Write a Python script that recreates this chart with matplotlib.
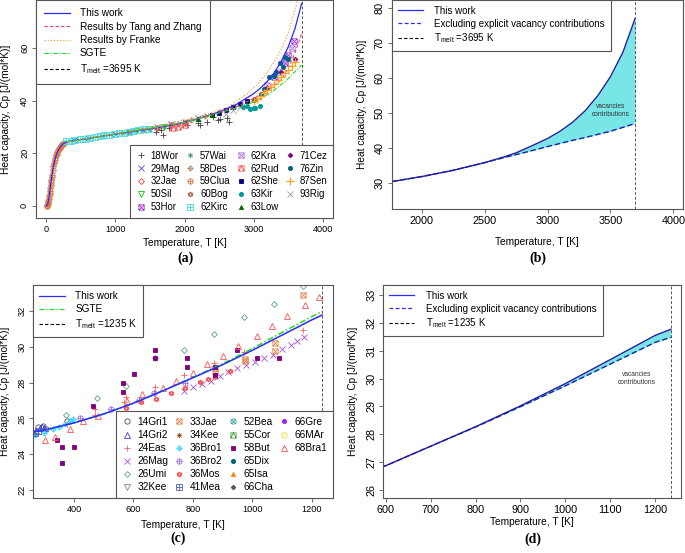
import numpy as np
import matplotlib
matplotlib.use('Agg')
import matplotlib.pyplot as plt
from matplotlib.path import Path
from matplotlib.lines import Line2D

plt.rcParams['font.family'] = ['Liberation Sans', 'DejaVu Sans']
plt.rcParams['mathtext.default'] = 'regular'
plt.rcParams['axes.linewidth'] = 0.8
plt.rcParams['axes.edgecolor'] = '#555555'

# ---------------- (a) tungsten: model curves ----------------
T_work_a = [0, 20, 40, 60, 80, 100, 130, 160, 200, 250, 300, 400, 500, 600, 700, 800, 900, 1000,
            1250, 1500, 1750, 2000, 2250, 2500, 2650, 2750, 2850, 3000, 3100, 3200, 3300, 3400,
            3500, 3600, 3695]
cp_work_a = [0, 0.7, 3.7, 7.9, 11.8, 15.0, 18.4, 20.5, 22.4, 23.8, 24.4, 24.9, 25.25, 25.6, 26.05,
             26.5, 26.9, 27.3, 28.3, 29.3, 30.4, 31.8, 33.6, 35.8, 37.4, 38.6, 40.2, 42.7, 44.8,
             47.4, 50.7, 55.0, 60.4, 67.5, 77.0]
T_tang = [300, 600, 1000, 1500, 2000, 2250, 2500, 2750, 3000, 3200, 3400, 3500, 3600, 3695]
cp_tang = [24.4, 25.6, 27.3, 29.3, 31.8, 33.5, 35.5, 37.8, 40.8, 44.0, 48.0, 52.3, 58.3, 65.5]
T_franke = [300, 600, 1000, 1500, 2000, 2250, 2500, 2650, 2900, 3050, 3200, 3300, 3400, 3500, 3625, 3680]
cp_franke = [24.4, 25.7, 27.5, 29.8, 32.6, 34.2, 36.2, 37.9, 42.5, 46.0, 51.0, 54.8, 59.5, 65.5, 77.0, 82.0]
T_sgte_a = [300, 1000, 2000, 2500, 2750, 3000, 3250, 3480, 3695]
cp_sgte_a = [24.4, 27.3, 31.8, 35.3, 37.3, 39.5, 43.0, 47.9, 53.6]
Tmelt_W = 3695

# ---------------- (a) experimental data ----------------
wor18_T = [1590, 1660, 1690, 1780, 2030, 2200, 2220, 2320, 2410, 2490, 2510, 2610, 2650]
wor18_cp = [28.2, 28.9, 27.0, 29.5, 30.8, 31.4, 30.8, 32.0, 33.9, 32.7, 33.0, 33.3, 32.0]
mag29_T = [400, 600, 800, 1000, 1200, 1400, 1600, 1800, 2000, 2200]
mag29_cp = [25.0, 25.7, 26.6, 27.4, 28.2, 29.0, 29.9, 31.0, 32.0, 33.3]
jae32_T = [1200, 1400, 1600, 1800, 2000]
jae32_cp = [28.2, 28.9, 29.7, 30.7, 31.6]
sil50_T = [1300, 1500, 1700]
sil50_cp = [28.5, 29.3, 30.1]
hor53_T = [3290, 3460, 3500, 3580]
hor53_cp = [49.1, 54.2, 57.3, 62.8]
wai57_T = [1100, 1300, 1500, 1700, 1900]
wai57_cp = [27.8, 28.6, 29.4, 30.2, 31.3]
des58_T = [2100, 2300, 2500, 2700]
des58_cp = [32.6, 34.0, 35.7, 37.6]
clua59_T = [5, 10, 15, 20, 25, 30, 35, 40, 45, 50, 55, 60, 65, 70, 75, 80, 90, 100, 110, 120, 130,
            140, 150, 160, 170, 180, 190, 200, 210, 220, 230, 240, 250]
clua59_cp = [0.02, 0.1, 0.3, 0.7, 1.3, 2.0, 2.8, 3.7, 4.7, 5.7, 6.8, 7.9, 8.9, 9.9, 10.9, 11.8, 13.5,
             15.0, 16.3, 17.4, 18.4, 19.2, 19.9, 20.5, 21.1, 21.6, 22.0, 22.4, 22.8, 23.1, 23.4,
             23.6, 23.8]
bog60_T = [1600, 1800, 2000]
bog60_cp = [29.7, 30.8, 32.0]
kirc62_T = [280, 350, 420, 490, 560, 630, 700, 770, 840, 910, 980, 1050, 1120, 1190, 1260, 1330, 1400, 1470]
kirc62_cp = [24.5, 24.8, 25.1, 25.4, 25.6, 25.9, 26.2, 26.5, 26.8, 27.1, 27.4, 27.6, 27.9, 28.2,
             28.5, 28.8, 29.1, 29.4]
kra62_T = [3200, 3350, 3450, 3550]
kra62_cp = [46.0, 51.0, 55.0, 60.0]
rud62_T = [1830, 1900, 2000]
rud62_cp = [29.5, 30.0, 30.8]
she62_T = [2400, 2500, 2600, 2700, 2800, 2900]
she62_cp = [34.6, 35.5, 36.6, 37.6, 38.6, 39.8]
kir63_T = [2850, 2900, 2950, 3000, 3020, 3090]
kir63_cp = [37.5, 38.0, 36.8, 37.4, 37.1, 37.8]
low63_T = [2200, 2400]
low63_cp = [33.0, 34.7]
cez71_T = [3000, 3200, 3400, 3600]
cez71_cp = [40.8, 45.0, 51.0, 56.0]
zin76_T = [3000, 3100, 3150, 3230, 3290, 3330, 3380, 3420, 3455, 3500]
zin76_cp = [40.3, 42.6, 44.5, 48.9, 49.5, 51.0, 54.3, 53.0, 56.5, 56.0]
sen87_T = [3000, 3050, 3100, 3150, 3200, 3250, 3300, 3350, 3400, 3450, 3500, 3550, 3600]
sen87_cp = [39.8, 40.8, 41.8, 42.9, 44.0, 45.2, 46.4, 47.7, 49.0, 50.4, 51.8, 53.3, 54.8]
rig93_T = [2600, 2700, 2800]
rig93_cp = [35.0, 36.4, 37.6]

# ---------------- (b) tungsten, vacancy part ----------------
T_b = [1700, 1750, 2000, 2250, 2500, 2650, 2750, 2850, 3000, 3100, 3200, 3300, 3400, 3500, 3600, 3695]
cp_work_b = [30.0, 30.3, 31.8, 33.6, 35.8, 37.4, 38.6, 40.2, 42.7, 44.8, 47.4, 50.7, 55.0, 60.4, 67.5, 77.0]
cp_novac_b = [30.0, 30.3, 31.8, 33.6, 35.8, 37.2, 38.1, 39.0, 40.4, 41.3, 42.2, 43.0, 43.9, 44.8, 45.9, 47.0]

# ---------------- (c) silver: curves ----------------
T_c = [250, 300, 400, 500, 600, 700, 800, 900, 1000, 1100, 1200, 1235]
cp_work_c = [25.2, 25.35, 25.75, 26.25, 26.85, 27.55, 28.27, 29.0, 29.8, 30.65, 31.5, 31.77]
cp_sgte_c = [25.2, 25.35, 25.75, 26.25, 26.85, 27.55, 28.3, 29.05, 29.9, 30.8, 31.68, 31.97]
Tmelt_Ag = 1235

# ---------------- (c) experimental data ----------------
gri14a_T = [280, 295, 305, 375]
gri14a_cp = [25.5, 25.55, 25.4, 25.85]
gri14b_T = [272, 285, 292, 300]
gri14b_cp = [25.3, 25.45, 25.5, 25.45]
eas24_T = [375, 470, 470, 575, 570, 672, 672, 772, 872, 870, 972, 1172]
eas24_cp = [25.7, 26.5, 26.2, 27.2, 26.9, 27.75, 27.4, 28.45, 29.1, 28.9, 29.7, 30.95]
mag26_T = [770, 800, 830, 860, 890, 920, 950, 980, 1010, 1040, 1070, 1100, 1130, 1150, 1175]
mag26_cp = [27.55, 27.75, 27.95, 28.1, 28.35, 28.6, 28.8, 29.0, 29.15, 29.35, 29.55, 29.9, 30.1, 30.3, 30.55]
umi26_T = [374, 476, 575, 672, 771, 872, 972, 1073, 1172]
umi26_cp = [26.2, 27.15, 27.8, 29.4, 29.8, 30.7, 31.65, 32.4, 33.4]
jae33_T = [875, 875, 975, 975, 1075, 1075, 1172]
jae33_cp = [28.8, 28.6, 29.3, 29.2, 29.75, 30.2, 32.9]
bro36a_T = [270, 300, 330, 350, 370, 385, 395]
bro36a_cp = [25.05, 25.2, 25.4, 25.5, 25.7, 25.85, 25.95]
bro36b_T = [420, 525, 620, 670, 775]
bro36b_cp = [26.0, 26.55, 27.05, 27.4, 28.0]
mos36_T = [575, 625, 675, 725, 775, 825, 850, 875, 925]
mos36_cp = [26.6, 26.9, 27.1, 27.4, 27.7, 28.05, 28.2, 28.3, 28.65]
mea41_T = [270, 280]
mea41_cp = [25.2, 25.3]
but58_T = [342, 358, 358, 400, 465, 566, 566, 603, 672, 672, 779, 779, 875, 875, 948, 1017, 1090]
but58_cp = [24.8, 24.4, 23.5, 24.4, 26.7, 28.0, 27.5, 28.5, 29.8, 29.35, 29.35, 28.85, 28.45,
            28.9, 29.8, 29.35, 29.35]
bra68_T = [302, 336, 387, 430, 480, 580, 630, 700, 745, 800, 847, 903, 953, 1015, 1066, 1116, 1178, 1226]
bra68_cp = [24.8, 24.98, 25.4, 25.85, 26.15, 26.95, 27.35, 27.7, 28.1, 28.55, 29.04, 29.5, 30.06,
            30.6, 31.16, 31.74, 32.34, 32.8]

# ---------------- (d) silver, vacancy part ----------------
T_d = [590, 600, 700, 800, 900, 1000, 1100, 1200, 1235]
cp_work_d = [26.83, 26.87, 27.57, 28.27, 29.02, 29.82, 30.68, 31.55, 31.77]
cp_novac_d = [26.83, 26.87, 27.57, 28.26, 28.99, 29.74, 30.52, 31.3, 31.48]


# ---- R-like plotting symbols ----
def sym(*polys):
    verts, codes = [], []
    for p in polys:
        verts += p
        codes += [Path.MOVETO] + [Path.LINETO] * (len(p) - 1)
    return Path(verts, codes)

ang = np.linspace(0, 2 * np.pi, 25)
CIRC = [(np.cos(a), np.sin(a)) for a in ang]
SQ = [(-1, -1), (1, -1), (1, 1), (-1, 1), (-1, -1)]
DIA = [(0, -1.3), (1.3, 0), (0, 1.3), (-1.3, 0), (0, -1.3)]
TUP = [(0, 1.2), (-1.04, -0.6), (1.04, -0.6), (0, 1.2)]
TDN = [(0, -1.2), (-1.04, 0.6), (1.04, 0.6), (0, -1.2)]
PL = [[(-1, 0), (1, 0)], [(0, -1), (0, 1)]]
XX = [[(-1, -1), (1, 1)], [(-1, 1), (1, -1)]]

M_BOXX = sym(SQ, *XX)
M_AST = sym(*PL, [(-0.75, -0.75), (0.75, 0.75)], [(-0.75, 0.75), (0.75, -0.75)])
M_DIAPL = sym(DIA, [(-1.3, 0), (1.3, 0)], [(0, -1.3), (0, 1.3)])
M_CIRPL = sym(CIRC, *PL)
M_STAR = sym(TUP, TDN)
M_SQPL = sym(SQ, *PL)
M_CIRX = sym(CIRC, [(-0.7, -0.7), (0.7, 0.7)], [(-0.7, 0.7), (0.7, -0.7)])
M_SQTRI = sym(SQ, [(-1, -1), (0, 1), (1, -1)])


def pts(ax, T, cp, marker, color, label, filled=False, ms=4.0, mew=0.6, z=2):
    h, = ax.plot(T, cp, linestyle='none', marker=marker, color=color, ms=ms, mew=mew,
                 mfc=color if filled else 'none', label=label, zorder=z)
    return h


def r_axes(ax, fs):
    ax.tick_params(direction='out', length=3, width=0.6, pad=2, labelsize=fs,
                   color='#555555', labelcolor='black')
    for lab in ax.get_yticklabels():
        lab.set_rotation(90)
        lab.set_va('center')
    ax.set_xlabel('Temperature, T [K]', fontsize=7.3)
    ax.set_ylabel('Heat capacity, Cp [J/(mol*K)]', fontsize=7.3)
    ax.xaxis.label.set_va('center')
    ax.yaxis.label.set_va('center')


def leg_frame(lg):
    fr = lg.get_frame()
    fr.set_edgecolor('#555555')
    fr.set_linewidth(0.8)
    fr.set_boxstyle('square', pad=0)


def msize(m, filled):
    if m == 'D':
        return 2.4 if filled else 3.0
    if m in ('o', 's', '^') and filled:
        return 3.0
    return 3.8


fig = plt.figure(figsize=(6.85, 5.53), dpi=100)
ax_a = fig.add_axes([0.0526, 0.6058, 0.4336, 0.3942])
ax_b = fig.add_axes([0.5718, 0.6220, 0.4253, 0.3780])
ax_c = fig.add_axes([0.0486, 0.0989, 0.4380, 0.3857])
ax_d = fig.add_axes([0.5596, 0.0989, 0.4342, 0.3857])

BLUE = '#2a2aff'
RED = '#ee4466'
ORANGE = '#ffa040'
GREEN = '#22dd22'
NAVY = '#1f1fa0'
FILL = '#78e6e6'
GRAY = '#555555'

# ================= (a) =================
ax = ax_a
data_a = [
    (wor18_T, wor18_cp, '+', '#404040', '18Wor', False),
    (mag29_T, mag29_cp, 'x', '#4a4aee', '29Mag', False),
    (jae32_T, jae32_cp, 'D', '#ff4040', '32Jae', False),
    (sil50_T, sil50_cp, 'v', '#00cc00', '50Sil', False),
    (hor53_T, hor53_cp, M_BOXX, '#9b30d0', '53Hor', False),
    (wai57_T, wai57_cp, M_AST, '#5a9e86', '57Wai', False),
    (des58_T, des58_cp, M_DIAPL, '#b88a6a', '58Des', False),
    (clua59_T, clua59_cp, M_CIRPL, '#e07a40', '59Clua', False),
    (bog60_T, bog60_cp, M_STAR, '#b06a50', '60Bog', False),
    (kirc62_T, kirc62_cp, M_SQPL, '#40dede', '62Kirc', False),
    (kra62_T, kra62_cp, M_BOXX, '#b070f0', '62Kra', False),
    (rud62_T, rud62_cp, M_SQTRI, '#ff5050', '62Rud', False),
    (she62_T, she62_cp, 's', '#000080', '62She', True),
    (kir63_T, kir63_cp, 'o', '#009999', '63Kir', True),
    (low63_T, low63_cp, '^', '#006400', '63Low', True),
    (cez71_T, cez71_cp, 'D', '#800080', '71Cez', True),
    (zin76_T, zin76_cp, 'o', '#006680', '76Zin', True),
    (sen87_T, sen87_cp, '+', '#ffa020', '87Sen', False),
    (rig93_T, rig93_cp, 'x', '#999999', '93Rig', False),
]
sym_a = []
for T, cp, m, c, lab, fil in data_a:
    ms = msize(m, fil)
    mew = 0.6
    z = 2
    if lab == '87Sen':
        ms, mew, z = 5.5, 0.9, 2.5
    sym_a.append(pts(ax, T, cp, m, c, lab, fil, ms=ms, mew=mew, z=z))

ax.plot(T_work_a, cp_work_a, color=BLUE, lw=0.9)
ax.plot(T_tang, cp_tang, color=RED, lw=0.8, dashes=(3, 2))
ax.plot(T_franke, cp_franke, color=ORANGE, lw=0.9, linestyle=(0, (1, 1.5)))
ax.plot(T_sgte_a, cp_sgte_a, color=GREEN, lw=0.8, dashes=(4, 1.5, 1, 1.5))
ax.axvline(Tmelt_W, color=GRAY, lw=0.7, dashes=(3, 2))
ax.set_xlim(-150, 4150)
ax.set_ylim(-4.6, 78.3)
ax.set_xticks([0, 1000, 2000, 3000, 4000])
ax.set_yticks([0, 20, 40, 60])
r_axes(ax, 6.6)

lines_a = [Line2D([], [], color=BLUE, lw=0.9),
           Line2D([], [], color=RED, lw=0.8, dashes=(3, 2)),
           Line2D([], [], color=ORANGE, lw=0.9, linestyle=(0, (1, 1.5))),
           Line2D([], [], color=GREEN, lw=0.8, dashes=(4, 1.5, 1, 1.5)),
           Line2D([], [], color='black', lw=0.8, dashes=(3, 2))]
labs_a = ['This work', 'Results by Tang and Zhang', 'Results by Franke', 'SGTE',
          'T$_{melt}$ =%d K' % Tmelt_W]
lg1 = ax.legend(lines_a, labs_a, loc='upper left', bbox_to_anchor=(0, 1), borderaxespad=0,
                fontsize=7.2, handlelength=2.6, handletextpad=1.0, labelspacing=0.35,
                borderpad=0.8, fancybox=False, framealpha=1)
leg_frame(lg1)
ax.add_artist(lg1)
lg2 = ax.legend(handles=sym_a, loc='lower right', bbox_to_anchor=(1, 0), borderaxespad=0,
                ncol=4, fontsize=6.9, handlelength=1.0, handletextpad=0.5, labelspacing=0.3,
                columnspacing=0.6, borderpad=0.6, fancybox=False, framealpha=1)
leg_frame(lg2)

# ================= (b) =================
ax = ax_b
ax.fill_between(T_b, cp_novac_b, cp_work_b, color=FILL, lw=0)
ax.plot(T_b, cp_work_b, color=NAVY, lw=1.0)
ax.plot(T_b, cp_novac_b, color=NAVY, lw=1.0, dashes=(4, 2))
ax.axvline(Tmelt_W, color=GRAY, lw=0.7, dashes=(3, 2))
ax.text(3504, 50.8, 'vacancies\ncontributions', fontsize=4.8, ha='center', va='center',
        color='#333333', linespacing=1.2)
ax.set_xlim(1761, 4077)
ax.set_ylim(22.5, 82.4)
ax.set_xticks([2000, 2500, 3000, 3500, 4000])
ax.set_yticks([30, 40, 50, 60, 70, 80])
r_axes(ax, 7.8)
lines_b = [Line2D([], [], color=BLUE, lw=0.9),
           Line2D([], [], color=BLUE, lw=0.9, dashes=(3, 2)),
           Line2D([], [], color='black', lw=0.8, dashes=(3, 2))]
labs_b = ['This work', 'Excluding explicit vacancy contributions', 'T$_{melt}$ =%d K' % Tmelt_W]
lg = ax.legend(lines_b, labs_b, loc='upper left', bbox_to_anchor=(0, 1), borderaxespad=0,
               fontsize=7.0, handlelength=2.6, handletextpad=1.2, labelspacing=0.3,
               borderpad=0.6, fancybox=False, framealpha=1)
leg_frame(lg)

# ================= (c) =================
ax = ax_c
data_c = [
    (gri14a_T, gri14a_cp, 'o', '#505050', '14Gri1', False),
    (gri14b_T, gri14b_cp, '^', '#3a3aee', '14Gri2', False),
    (eas24_T, eas24_cp, '+', '#ff5a5a', '24Eas', False),
    (mag26_T, mag26_cp, 'x', '#a050e0', '26Mag', False),
    (umi26_T, umi26_cp, 'D', '#5fa08a', '26Umi', False),
    ([], [], 'v', '#a08060', '32Kee', False),
    (jae33_T, jae33_cp, M_BOXX, '#e08a50', '33Jae', False),
    ([], [], M_AST, '#a0522d', '34Kee', False),
    (bro36a_T, bro36a_cp, M_DIAPL, '#30d8ff', '36Bro1', False),
    (bro36b_T, bro36b_cp, M_CIRPL, '#a070e0', '36Bro2', False),
    (mos36_T, mos36_cp, M_STAR, '#ff5050', '36Mos', False),
    (mea41_T, mea41_cp, M_SQPL, '#5060c0', '41Mea', False),
    ([], [], M_CIRX, '#40a0a0', '52Bea', False),
    ([], [], M_SQTRI, '#40a040', '55Cor', False),
    (but58_T, but58_cp, 's', '#800080', '58But', True),
    ([], [], 'o', '#006080', '65Dix', True),
    ([], [], '^', '#ff8000', '65Isa', True),
    ([], [], 'D', '#555555', '66Cha', True),
    ([], [], 'o', '#a020f0', '66Gre', True),
    ([], [], 'o', '#ffd700', '66MAr', False),
    (bra68_T, bra68_cp, '^', '#ff5050', '68Bra1', False),
]
sym_c = []
for T, cp, m, c, lab, fil in data_c:
    sym_c.append(pts(ax, T, cp, m, c, lab, fil, ms=msize(m, fil)))
ax.plot(T_c, cp_sgte_c, color=GREEN, lw=1.1, dashes=(4, 1.5, 1, 1.5))
ax.plot(T_c, cp_work_c, color=BLUE, lw=1.1)
ax.axvline(Tmelt_Ag, color=GRAY, lw=0.7, dashes=(3, 2))
ax.set_xlim(263, 1273)
ax.set_ylim(21.54, 33.45)
ax.set_xticks([400, 600, 800, 1000, 1200])
ax.set_yticks([22, 24, 26, 28, 30, 32])
r_axes(ax, 6.6)
lines_c = [Line2D([], [], color=BLUE, lw=0.9),
           Line2D([], [], color=GREEN, lw=0.9, dashes=(4, 1.5, 1, 1.5)),
           Line2D([], [], color='black', lw=0.8, dashes=(3, 2))]
labs_c = ['This work', 'SGTE', 'T$_{melt}$ =%d K' % Tmelt_Ag]
lg1 = ax.legend(lines_c, labs_c, loc='upper left', bbox_to_anchor=(0, 1), borderaxespad=0,
                fontsize=7.2, handlelength=2.6, handletextpad=1.0, labelspacing=0.3,
                borderpad=0.6, fancybox=False, framealpha=1)
leg_frame(lg1)
ax.add_artist(lg1)
blank = Line2D([], [], linestyle='none')
hs = sym_c + [blank] * 3
ls = [h.get_label() for h in sym_c] + [''] * 3
lg2 = ax.legend(hs, ls, loc='lower right', bbox_to_anchor=(1, 0), borderaxespad=0,
                ncol=4, fontsize=7.3, handlelength=1.0, handletextpad=0.5, labelspacing=0.3,
                columnspacing=0.6, borderpad=0.6, fancybox=False, framealpha=1)
leg_frame(lg2)

# ================= (d) =================
ax = ax_d
ax.fill_between(T_d, cp_novac_d, cp_work_d, color=FILL, lw=0)
ax.plot(T_d, cp_work_d, color=NAVY, lw=1.0)
ax.plot(T_d, cp_novac_d, color=NAVY, lw=1.0, dashes=(4, 2))
ax.axvline(Tmelt_Ag, color=GRAY, lw=0.7, dashes=(3, 2))
ax.text(1158, 30.0, 'vacancies\ncontributions', fontsize=4.8, ha='center', va='center',
        color='#333333', linespacing=1.2)
ax.set_xlim(594.7, 1257)
ax.set_ylim(25.7, 33.36)
ax.set_xticks([600, 700, 800, 900, 1000, 1100, 1200])
ax.set_yticks([26, 27, 28, 29, 30, 31, 32, 33])
r_axes(ax, 7.8)
labs_d = ['This work', 'Excluding explicit vacancy contributions', 'T$_{melt}$ =%d K' % Tmelt_Ag]
lg = ax.legend(lines_b, labs_d, loc='upper left', bbox_to_anchor=(0, 1), borderaxespad=0,
               fontsize=7.0, handlelength=2.6, handletextpad=1.2, labelspacing=0.3,
               borderpad=0.6, fancybox=False, framealpha=1)
leg_frame(lg)

# label positions (R style)
for a, xl, yl in [(ax_a, -0.115, -0.101), (ax_b, -0.16, -0.103),
                  (ax_c, -0.125, -0.094), (ax_d, -0.112, -0.101)]:
    a.xaxis.set_label_coords(0.5, xl)
    a.yaxis.set_label_coords(yl, 0.5)

for x, y, s in [(185, 258, '(a)'), (538, 258, '(b)'), (178, 538, '(c)'), (533, 539, '(d)')]:
    fig.text(x / 685, 1 - y / 553, s, fontsize=10, fontweight='bold', family='Liberation Serif',
             ha='center', va='center')

fig.savefig('out.png', dpi=100)
